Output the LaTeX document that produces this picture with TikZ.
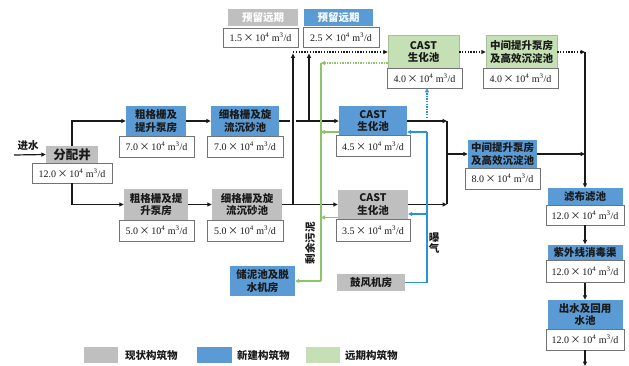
\documentclass[tikz,border=0pt]{standalone}
\usepackage{fontspec}
\setmainfont{Liberation Serif}
\newfontfamily\cjk{Noto Sans CJK SC}
\usetikzlibrary{arrows.meta}
\definecolor{cgray}{HTML}{BFBFBF}
\definecolor{cblue}{HTML}{5B9BD5}
\definecolor{cgreen}{HTML}{C5E0B4}
\definecolor{lgreen}{HTML}{8CC46A}
\definecolor{lblue}{HTML}{2E90D8}
\definecolor{ink}{HTML}{1A1A1A}
\newcommand\vv[1]{#1{\cjk\,×\,}10\textsuperscript{4} m\textsuperscript{3}/d}
\tikzset{
  lab/.style={inner sep=0pt, align=center, text=ink, font=\cjk\bfseries\fontsize{10.5}{12.5}\selectfont},
  gb/.style={lab, fill=cgray},
  bb/.style={lab, fill=cblue},
  nb/.style={lab, fill=cgreen, draw=cgreen!85!black, line width=0.5pt},
  vb/.style={draw=black!55, line width=0.7pt, fill=white, inner sep=0pt, text=ink, font=\fontsize{10}{11}\selectfont},
  tip/.style={-{Triangle[length=4.5pt,width=4pt]}},
  ln/.style={line width=1.2pt, draw=ink},
  arr/.style={ln, tip},
  dotl/.style={line width=1.3pt, draw=ink, dash pattern=on 1.4pt off 1.4pt},
  bl/.style={line width=1.1pt, draw=lblue},
  blarr/.style={bl, -{Triangle[length=4pt,width=4pt]}},
  gl/.style={line width=1.1pt, draw=lgreen},
  glarr/.style={gl, -{Triangle[length=4pt,width=4pt]}},
  txt/.style={inner sep=1pt, text=ink, font=\cjk\bfseries\fontsize{10.5}{12}\selectfont},
}
\begin{document}
\begin{tikzpicture}[x=1pt,y=-1pt]
\useasboundingbox (0,0) rectangle (629,366);
% nodes
\node[gb, minimum width=52pt, minimum height=17pt, font=\cjk\bfseries\fontsize{12.5}{13}\selectfont] (fpj) at (72,154.5) {分配井};
\node[vb, minimum width=80pt, minimum height=20pt] (fpjv) at (72,173) {\vv{12.0}};
\node[bb, minimum width=60pt, minimum height=30pt] (cg1) at (156,121) {粗格栅及\\提升泵房};
\node[vb, minimum width=75pt, minimum height=21pt] (cg1v) at (156.5,146.5) {\vv{7.0}};
\node[bb, minimum width=68pt, minimum height=30pt] (xg1) at (245,121) {细格栅及旋\\流沉砂池};
\node[vb, minimum width=76pt, minimum height=21pt] (xg1v) at (245,146.5) {\vv{7.0}};
\node[gb, minimum width=64pt, minimum height=31pt] (cg2) at (156,204.5) {粗格栅及提\\升泵房};
\node[vb, minimum width=75pt, minimum height=21pt] (cg2v) at (156.5,230.5) {\vv{5.0}};
\node[gb, minimum width=70pt, minimum height=31pt] (xg2) at (247,204.5) {细格栅及旋\\流沉砂池};
\node[vb, minimum width=76pt, minimum height=21pt] (xg2v) at (245,230.5) {\vv{5.0}};
\node[gb, text=white, minimum width=70pt, minimum height=17pt] (yl1) at (263,17.5) {预留远期};
\node[vb, minimum width=75pt, minimum height=19pt] (yl1v) at (260.5,37.5) {\vv{1.5}};
\node[bb, text=white, minimum width=69pt, minimum height=17pt] (yl2) at (338.5,17.5) {预留远期};
\node[vb, minimum width=76pt, minimum height=20pt] (yl2v) at (341,37) {\vv{2.5}};
\node[nb, minimum width=71pt, minimum height=33pt] (castg) at (423.5,52) {CAST\\生化池};
\node[vb, minimum width=75pt, minimum height=19.5pt] (castgv) at (424.5,78.25) {\vv{4.0}};
\node[nb, minimum width=71pt, minimum height=33pt] (zjg) at (521.5,52) {中间提升泵房\\及高效沉淀池};
\node[vb, minimum width=75pt, minimum height=19.5pt] (zjgv) at (520.5,78.25) {\vv{4.0}};
\node[bb, minimum width=68pt, minimum height=29pt] (castb) at (373,121) {CAST\\生化池};
\node[vb, minimum width=74pt, minimum height=21pt] (castbv) at (373,146) {\vv{4.5}};
\node[gb, minimum width=70pt, minimum height=29pt] (castgr) at (373,204.5) {CAST\\生化池};
\node[vb, minimum width=74pt, minimum height=22pt] (castgrv) at (373,230) {\vv{3.5}};
\node[bb, minimum width=69pt, minimum height=28pt] (zjb) at (502.5,154) {中间提升泵房\\及高效沉淀池};
\node[vb, minimum width=75pt, minimum height=21pt] (zjbv) at (502.5,178.5) {\vv{8.0}};
\node[bb, minimum width=75pt, minimum height=17pt] (lb) at (585,196.5) {滤布滤池};
\node[vb, minimum width=78pt, minimum height=20pt] (lbv) at (585,215) {\vv{12.0}};
\node[bb, minimum width=75pt, minimum height=16pt] (zw) at (585,252.5) {紫外线消毒渠};
\node[vb, minimum width=78pt, minimum height=22pt] (zwv) at (585,271.5) {\vv{12.0}};
\node[bb, minimum width=75pt, minimum height=29pt] (cs) at (585,314.5) {出水及回用\\水池};
\node[vb, minimum width=78pt, minimum height=21pt] (csv) at (585,339.5) {\vv{12.0}};
\node[bb, minimum width=65pt, minimum height=30pt] (cn) at (262.5,281) {储泥池及脱\\水机房};
\node[gb, minimum width=68pt, minimum height=17pt] (gf) at (371,282.5) {鼓风机房};
% text labels
\node[txt] (jin) at (28,146) {进水};
\node[txt, rotate=90] (sl) at (310,243) {剩余污泥};
\node[txt, align=center, font=\cjk\bfseries\fontsize{10.5}{11.5}\selectfont] (bq) at (434,243) {曝\\气};
% coordinates
\coordinate (in) at (14,155);
\coordinate (a1) at (290,121);
\coordinate (a2) at (296,121);
\coordinate (j1) at (309,121);
\coordinate (t1) at (309,53.5);
\coordinate (j2) at (293,204.5);
\coordinate (t2) at (293,53.5);
\coordinate (d0) at (293,52);
\coordinate (c1) at (585,52);
\coordinate (r1) at (447,121);
\coordinate (r2) at (447,204.5);
\coordinate (r3) at (447,154);
\coordinate (r4) at (585,154);
\coordinate (out) at (585,366);
\coordinate (b1) at (427,282.5);
\coordinate (b2) at (427,132);
\coordinate (b3) at (427,214);
\coordinate (b4) at (427,118);
\coordinate (g1) at (321,63);
\coordinate (g2) at (321,281);
\coordinate (g3) at (321,132);
\coordinate (g4) at (321,217.5);
% black connectors
\draw[arr] (in) -- (fpj.west);
\draw[arr] (fpj.north) |- (cg1.west);
\draw[arr] (fpjv.south) |- (cg2.west);
\draw[arr] (cg1) -- (xg1);
\draw[arr] (cg2) -- (xg2);
\draw[ln] (xg1.east) -- (a1);
\draw[arr] (a2) -- (castb.west);
\draw[arr] (j1) -- (t1);
\draw[arr] (xg2.east) -- (castgr.west);
\draw[arr] (j2) -- (t2);
\draw[dotl, tip] (d0) -- (castg.west);
\draw[dotl, tip] (castg) -- (zjg);
\draw[dotl, tip] (zjg.east) -- (c1);
\draw[arr] (c1) -- (lb.north);
\draw[arr] (castb.east) -- (r1);
\draw[arr] (castgr.east) -- (r2);
\draw[ln] (r1) -- (r2);
\draw[arr] (r3) -- (zjb.west);
\draw[arr] (zjb.east) -- (r4);
\draw[arr] (lbv.south) -- (zw.north);
\draw[arr] (zwv.south) -- (cs.north);
\draw[arr] (csv.south) -- (out);
% blue aeration
\draw[bl] (gf.east) -- (b1) -- (b2);
\draw[blarr] (b2) -- (castb.east |- b2);
\draw[blarr] (b3) -- (castgr.east |- b3);
\draw[bl, dash pattern=on 1.3pt off 1.3pt, -{Triangle[length=4pt,width=4pt]}] (b4) -- (castgv.south -| b4);
% green sludge
\draw[gl, dash pattern=on 1.3pt off 1.3pt, -{Triangle[length=4pt,width=4pt]}] ([yshift=-11pt]castg.west) -- (g1);
\draw[gl] (g1) -- (g2);
\draw[glarr] (g2) -- (cn.east);
\draw[glarr] ([yshift=-11pt]castb.west) -- (g3);
\draw[glarr] ([yshift=-13pt]castgr.west) -- (g4);
% legend
\node[fill=cgray, minimum width=34pt, minimum height=16pt, inner sep=0pt] (lg1) at (101,355) {};
\node[txt, anchor=west] (lt1) at (124,355) {现状构筑物};
\node[fill=cblue, minimum width=35pt, minimum height=16pt, inner sep=0pt] (lg2) at (214.5,355) {};
\node[txt, anchor=west] (lt2) at (236,355) {新建构筑物};
\node[fill=cgreen, minimum width=34pt, minimum height=16pt, inner sep=0pt] (lg3) at (323,355) {};
\node[txt, anchor=west] (lt3) at (344,355) {远期构筑物};
\end{tikzpicture}
\end{document}
